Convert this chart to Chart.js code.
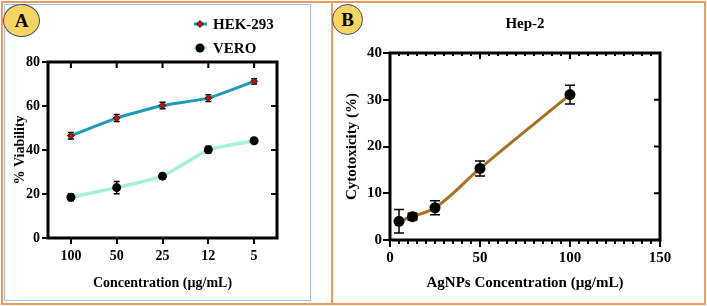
<!DOCTYPE html>
<html lang="en">
<head>
<meta charset="UTF-8">
<title>Viability / Cytotoxicity</title>
<script src="https://cdn.jsdelivr.net/npm/chart.js@4.4.0/dist/chart.umd.min.js"></script>
<style>
  body { margin: 0; background: #fff; }
  #wrap { position: relative; width: 707px; height: 306px; overflow: hidden; }
  .box { position: absolute; box-sizing: border-box; }
  #outer { left: 1px; top: 1px; width: 705px; height: 304px; border: 2px solid #f09a5e; }
  #boxA { left: 4px; top: 4px; width: 307px; height: 297px; border: 1.5px solid #9cc2ea; }
  #boxB { left: 331px; top: 1px; width: 375px; height: 304px; border: 2px solid #f09a5e; }
  .badge { position: absolute; box-sizing: border-box; background: #f8d463; border: 1.5px solid #3d4b6a;
           border-radius: 50%; font: bold 19px 'Liberation Serif', serif; color: #000;
           display: flex; align-items: center; justify-content: center; z-index: 3; }
  #badgeA { left: 3px; top: 4px; width: 37px; height: 33px; }
  #badgeB { left: 332px; top: 4px; width: 31px; height: 31px; }
  canvas { position: absolute; top: 0; z-index: 2; }
  #chartA { left: 0; }
  #chartB { left: 332px; }
</style>
</head>
<body>
<div id="wrap">
  <div class="box" id="outer"></div>
  <div class="box" id="boxA"></div>
  <div class="box" id="boxB"></div>
  <div class="badge" id="badgeA">A</div>
  <div class="badge" id="badgeB">B</div>
  <canvas id="chartA" width="312" height="306"></canvas>
  <canvas id="chartB" width="375" height="306"></canvas>
</div>
<script>
// ---- panel A data
var concLabels = ['100', '50', '25', '12', '5'];
var hek = [46.5, 54.5, 60.2, 63.6, 71.2];
var hekErr = [1.5, 1.6, 1.5, 1.5, 1.2];
var vero = [18.5, 22.9, 28.1, 40.1, 44.2];
var veroErr = [1.6, 2.8, 1.0, 1.6, 1.0];
var yTicksA = [0, 20, 40, 60, 80];

// ---- panel B data
var concB = [5, 12.5, 25, 50, 100];
var cyto = [4.0, 5.0, 6.9, 15.3, 31.1];
var cytoErr = [2.5, 0.7, 1.5, 1.6, 2.0];
var xTicksB = [0, 50, 100, 150];
var yTicksB = [0, 10, 20, 30, 40];

var serif = "'Liberation Serif', 'Times New Roman', serif";
Chart.defaults.font.family = serif;
Chart.defaults.font.weight = 'bold';
Chart.defaults.color = '#000';
Chart.defaults.animation = false;

// error bars drawn from the scales, behind the markers
function errorBarPlugin(errs, cap) {
  return {
    id: 'errbars',
    beforeDatasetsDraw: function (chart) {
      var ctx = chart.ctx;
      var ys = chart.scales.y;
      ctx.save();
      ctx.strokeStyle = '#000';
      ctx.lineWidth = 1.5;
      chart.data.datasets.forEach(function (ds, i) {
        var meta = chart.getDatasetMeta(i);
        meta.data.forEach(function (pt, j) {
          var v = ds.data[j];
          v = (typeof v === 'object') ? v.y : v;
          var e = errs[i][j];
          var top = ys.getPixelForValue(v + e);
          var bot = ys.getPixelForValue(v - e);
          ctx.beginPath();
          ctx.moveTo(pt.x, top); ctx.lineTo(pt.x, bot);
          ctx.moveTo(pt.x - cap, top); ctx.lineTo(pt.x + cap, top);
          ctx.moveTo(pt.x - cap, bot); ctx.lineTo(pt.x + cap, bot);
          ctx.stroke();
        });
      });
      ctx.restore();
    }
  };
}

// heavy frame plus mirrored ticks on top / right
function framePlugin(topTicks, rightTicks, minorTop, minorBottom) {
  return {
    id: 'frame',
    afterDraw: function (chart) {
      var ctx = chart.ctx, a = chart.chartArea;
      var xs = chart.scales.x, ys = chart.scales.y;
      ctx.save();
      ctx.strokeStyle = '#000';
      ctx.lineWidth = 2;
      ctx.beginPath();
      topTicks.forEach(function (v) {
        var x = xs.getPixelForValue(v);
        ctx.moveTo(x, a.top); ctx.lineTo(x, a.top + 6);
      });
      rightTicks.forEach(function (v) {
        var y = ys.getPixelForValue(v);
        ctx.moveTo(a.right, y); ctx.lineTo(a.right - 6, y);
      });
      (minorTop || []).forEach(function (v) {
        var x = xs.getPixelForValue(v);
        ctx.moveTo(x, a.top); ctx.lineTo(x, a.top + 3);
      });
      (minorBottom || []).forEach(function (v) {
        var x = xs.getPixelForValue(v);
        ctx.moveTo(x, a.bottom); ctx.lineTo(x, a.bottom + 4);
      });
      ctx.stroke();
      ctx.lineWidth = 3;
      ctx.strokeRect(a.left, a.top, a.right - a.left, a.bottom - a.top);
      ctx.restore();
    }
  };
}

// ---- chart A
new Chart(document.getElementById('chartA'), {
  type: 'line',
  data: {
    labels: concLabels,
    datasets: [{
      label: 'HEK-293', data: hek,
      borderColor: '#1d9bb8', borderWidth: 3, tension: 0.15,
      pointStyle: 'rectRot', pointRadius: 3.5, pointBorderWidth: 1,
      pointBackgroundColor: '#c40f0f', pointBorderColor: '#222'
    }, {
      label: 'VERO', data: vero,
      borderColor: '#a6f0da', borderWidth: 3.5, tension: 0.15,
      pointStyle: 'circle', pointRadius: 4.5, pointBorderWidth: 0,
      pointBackgroundColor: '#000', pointBorderColor: '#000'
    }]
  },
  options: {
    responsive: false,
    layout: { padding: { left: 0, right: 35, top: 62, bottom: 0 } },
    plugins: { legend: { display: false }, tooltip: { enabled: false } },
    scales: {
      x: {
        offset: true,
        grid: { drawOnChartArea: false, tickLength: 6, color: '#000', lineWidth: 2, offset: false },
        border: { display: false },
        ticks: { font: { size: 14 }, padding: 4, maxRotation: 0 },
        title: { display: true, text: 'Concentration (µg/mL)', font: { size: 14 }, padding: { top: 2, bottom: 14 } },
        afterFit: function (s) { s.height = 68; }
      },
      y: {
        min: 0, max: 80,
        afterBuildTicks: function (s) { s.ticks = yTicksA.map(function (v) { return { value: v }; }); },
        grid: { drawOnChartArea: false, tickLength: 6, color: '#000', lineWidth: 2 },
        border: { display: false },
        ticks: { font: { size: 14 }, padding: 2 },
        title: { display: true, text: '% Viability', font: { size: 14 }, padding: { top: 12, bottom: 2 } },
        afterFit: function (s) { s.width = 48; }
      }
    }
  },
  plugins: [errorBarPlugin([hekErr, veroErr], 3), framePlugin(concLabels.map(function (c, i) { return i; }), [20, 40, 60]), {
    id: 'legendA',
    afterDraw: function (chart) {
      var ctx = chart.ctx;
      var rows = [24, 48];
      chart.data.datasets.forEach(function (ds, i) {
        var y = rows[i];
        ctx.save();
        ctx.strokeStyle = ds.borderColor;
        ctx.lineWidth = 3;
        ctx.beginPath(); ctx.moveTo(194, y); ctx.lineTo(207, y); ctx.stroke();
        ctx.fillStyle = ds.pointBackgroundColor;
        ctx.strokeStyle = ds.pointBorderColor;
        ctx.lineWidth = ds.pointBorderWidth;
        Chart.helpers.drawPoint(ctx, { pointStyle: ds.pointStyle, radius: ds.pointRadius, borderWidth: ds.pointBorderWidth }, 200, y);
        ctx.fillStyle = '#000';
        ctx.font = 'bold 15px ' + serif;
        ctx.textBaseline = 'middle';
        ctx.fillText(ds.label, 213, y + 1);
        ctx.restore();
      });
    }
  }]
});

// ---- chart B
var minorB = [];
for (var v = 5; v < 150; v += 5) { if (v % 50 !== 0) minorB.push(v); }

new Chart(document.getElementById('chartB'), {
  type: 'line',
  data: {
    datasets: [{
      label: 'Hep-2',
      data: concB.map(function (c, i) { return { x: c, y: cyto[i] }; }),
      borderColor: '#a8701f', borderWidth: 3,
      cubicInterpolationMode: 'monotone',
      pointStyle: 'circle', pointRadius: 5.5, pointBorderWidth: 0,
      pointBackgroundColor: '#000'
    }]
  },
  options: {
    responsive: false,
    layout: { padding: { left: 0, right: 47, top: 53, bottom: 0 } },
    plugins: { legend: { display: false }, tooltip: { enabled: false } },
    scales: {
      x: {
        type: 'linear', min: 0, max: 150,
        afterBuildTicks: function (s) { s.ticks = xTicksB.map(function (v) { return { value: v }; }); },
        grid: { drawOnChartArea: false, tickLength: 7, color: '#000', lineWidth: 2 },
        border: { display: false },
        ticks: { font: { size: 15 }, padding: 2, maxRotation: 0 },
        title: { display: true, text: 'AgNPs Concentration (µg/mL)', font: { size: 15 }, padding: { top: 2, bottom: 14 } },
        afterFit: function (s) { s.height = 66; }
      },
      y: {
        min: 0, max: 40,
        afterBuildTicks: function (s) { s.ticks = yTicksB.map(function (v) { return { value: v }; }); },
        grid: { drawOnChartArea: false, tickLength: 7, color: '#000', lineWidth: 2 },
        border: { display: false },
        ticks: { font: { size: 15 }, padding: 1 },
        title: { display: true, text: 'Cytotoxicity (%)', font: { size: 15 }, padding: { top: 11, bottom: 2 } },
        afterFit: function (s) { s.width = 58; }
      }
    }
  },
  plugins: [errorBarPlugin([cytoErr], 5), framePlugin([50, 100], [10, 20, 30], minorB, minorB), {
    id: 'titleB',
    afterDraw: function (chart) {
      var ctx = chart.ctx;
      ctx.save();
      ctx.font = 'bold 15px ' + serif;
      ctx.fillStyle = '#000';
      ctx.textAlign = 'center';
      ctx.textBaseline = 'middle';
      ctx.fillText(chart.data.datasets[0].label, 193, 24);
      ctx.restore();
    }
  }]
});
</script>
</body>
</html>
